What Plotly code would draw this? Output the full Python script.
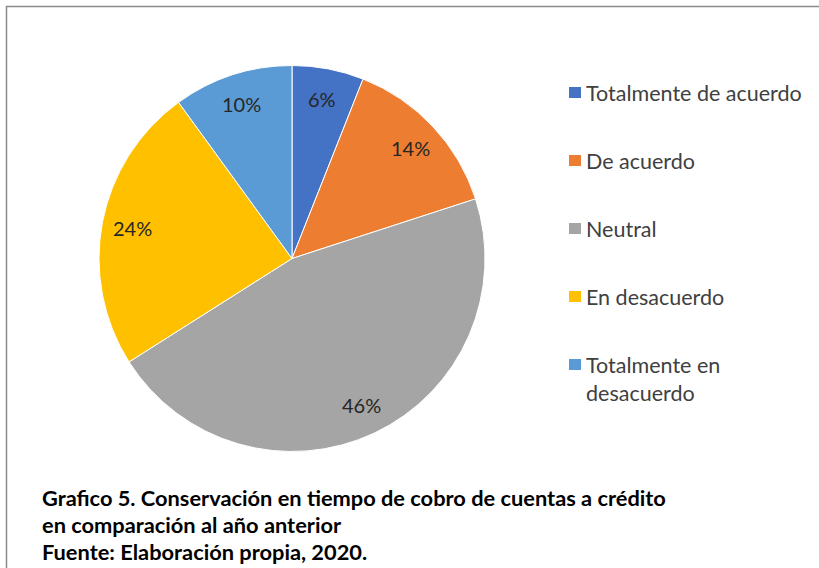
import math
import plotly.graph_objects as go

categories = ["Totalmente de acuerdo", "De acuerdo", "Neutral", "En desacuerdo", "Totalmente en desacuerdo"]
legend_labels = ["Totalmente de acuerdo", "De acuerdo", "Neutral", "En desacuerdo", "Totalmente en<br>desacuerdo"]
values = [6, 14, 46, 24, 10]
colors = ["#4472C4", "#ED7D31", "#A5A5A5", "#FFC000", "#5B9BD5"]
caption_lines = [
    "Grafico 5. Conservación en tiempo de cobro de cuentas a crédito",
    "en comparación al año anterior",
    "Fuente: Elaboración propia, 2020.",
]

W, H = 819, 568
FONT = "Lato"

# pie geometry (pixels)
cx, cy, r = 292, 258.5, 193

def px(x):
    return x / W

def py(y):
    return 1 - y / H

fig = go.Figure()
fig.add_trace(go.Pie(
    labels=categories,
    values=values,
    sort=False,
    direction="clockwise",
    rotation=0,
    marker=dict(colors=colors, line=dict(color="white", width=1)),
    textinfo="none",
    hoverinfo="label+percent",
    showlegend=False,
    domain=dict(x=[px(cx - r), px(cx + r)], y=[py(cy + r), py(cy - r)]),
))

annotations = []
shapes = []

# percentage labels inside slices, at mid-angle
total = sum(values)
cum = 0
for v in values:
    mid = (cum + v / 2) / total * 2 * math.pi
    cum += v
    lx = cx + 0.84 * r * math.sin(mid)
    ly = cy - 0.84 * r * math.cos(mid)
    annotations.append(dict(
        x=px(lx), y=py(ly), xref="paper", yref="paper",
        text=f"{round(v / total * 100)}%", showarrow=False,
        font=dict(family=FONT, size=20, color="#262626"),
        xanchor="center", yanchor="middle",
    ))

# manual legend
leg_x, leg_y0, leg_dy = 569, 92, 68
for i, (lab, col) in enumerate(zip(legend_labels, colors)):
    yc = leg_y0 + i * leg_dy
    shapes.append(dict(type="rect", xref="paper", yref="paper",
                       x0=px(leg_x), x1=px(leg_x + 12), y0=py(yc + 6), y1=py(yc - 5),
                       fillcolor=col, line=dict(width=0)))
    annotations.append(dict(
        x=px(leg_x + 15), y=py(yc - 14), xref="paper", yref="paper",
        text=lab, showarrow=False, align="left",
        font=dict(family=FONT, size=21.5, color="#404040"),
        xanchor="left", yanchor="top",
    ))

# caption
for i, line in enumerate(caption_lines):
    annotations.append(dict(
        x=px(40), y=py(497 + i * 27), xref="paper", yref="paper",
        text=f"<b>{line}</b>", showarrow=False, align="left",
        font=dict(family=FONT, size=21.8, color="#000000"),
        xanchor="left", yanchor="middle",
    ))

# frame border (top and left visible)
shapes.append(dict(type="line", xref="paper", yref="paper",
                   x0=px(6), x1=1, y0=py(6.5), y1=py(6.5),
                   line=dict(color="#8c8c8c", width=1.5)))
shapes.append(dict(type="line", xref="paper", yref="paper",
                   x0=px(6.5), x1=px(6.5), y0=py(6), y1=0,
                   line=dict(color="#8c8c8c", width=1.5)))

fig.update_layout(
    width=W, height=H,
    margin=dict(l=0, r=0, t=0, b=0),
    paper_bgcolor="white", plot_bgcolor="white",
    annotations=annotations, shapes=shapes,
    showlegend=False,
)

fig.write_html(
    "out.html",
    config={"displayModeBar": False},
    post_script="document.body.style.margin='0';document.body.style.overflow='hidden';",
)
